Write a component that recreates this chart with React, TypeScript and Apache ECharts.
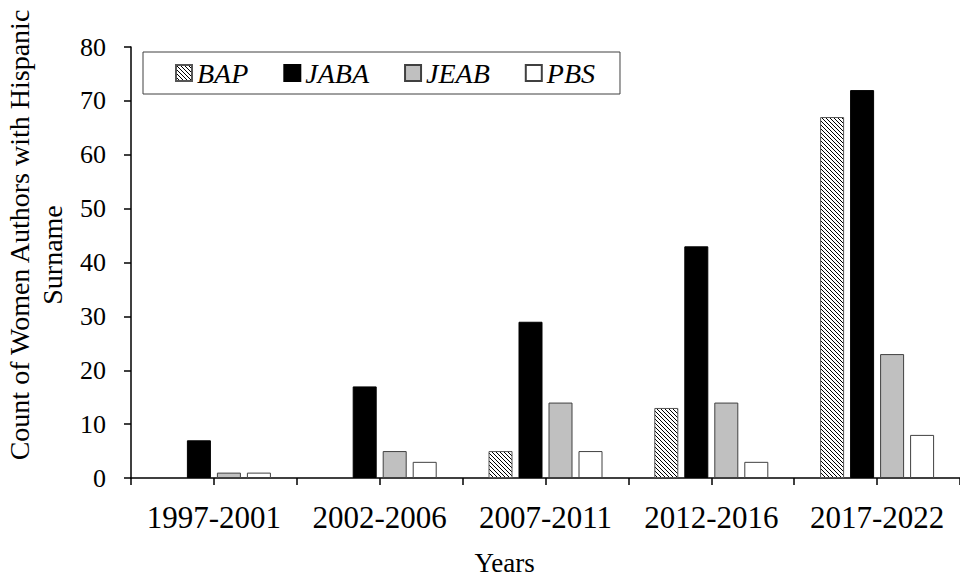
import React, { useEffect, useRef } from "react";
import * as echarts from "echarts";

const categories = ["1997-2001", "2002-2006", "2007-2011", "2012-2016", "2017-2022"];
const seriesNames = ["BAP", "JABA", "JEAB", "PBS"];
const bapValues = [0, 0, 5, 13, 67];
const jabaValues = [7, 17, 29, 43, 72];
const jeabValues = [1, 5, 14, 14, 23];
const pbsValues = [1, 3, 5, 3, 8];
const yTicks = [0, 10, 20, 30, 40, 50, 60, 70, 80];
const yTitleLine1 = "Count of Women Authors with Hispanic";
const yTitleLine2 = "Surname";
const xTitle = "Years";

const FONT = "Liberation Serif";

function makeHatch(): any {
  const c = document.createElement("canvas");
  c.width = 4;
  c.height = 4;
  const ctx = c.getContext("2d")!;
  ctx.fillStyle = "#ffffff";
  ctx.fillRect(0, 0, 4, 4);
  ctx.fillStyle = "#000000";
  for (let i = 0; i < 4; i++) ctx.fillRect(i, i, 1, 1);
  return { image: c.toDataURL(), repeat: "repeat", imageWidth: 4, imageHeight: 4 };
}

export default function App() {
  const ref = useRef<HTMLDivElement>(null);
  useEffect(() => {
    document.body.style.margin = "0";
    const chart = echarts.init(ref.current!, null, { renderer: "svg" });
    const hatch = makeHatch();
    const toData = (arr: number[]) => arr.map((v) => (v === 0 ? "-" : v));
    const styles = [
      { color: hatch, borderColor: "#555555", borderWidth: 1 },
      { color: "#000000", borderColor: "#000000", borderWidth: 1 },
      { color: "#c0c0c0", borderColor: "#404040", borderWidth: 1 },
      { color: "#ffffff", borderColor: "#404040", borderWidth: 1 },
    ];
    const values = [bapValues, jabaValues, jeabValues, pbsValues];
    const option: any = {
      animation: false,
      backgroundColor: "#ffffff",
      textStyle: { fontFamily: FONT },
      grid: { left: 131, top: 47, height: 438, width: 835, containLabel: false },
      legend: {
        left: 143,
        top: 52,
        orient: "horizontal",
        icon: "rect",
        itemWidth: 16,
        itemHeight: 16,
        itemGap: 35,
        padding: [7, 25, 7, 32],
        borderColor: "#404040",
        borderWidth: 1,
        textStyle: { fontFamily: FONT, fontStyle: "italic", fontSize: 28, color: "#000" },
        data: seriesNames,
      },
      graphic: [
        {
          type: "text",
          x: 19,
          y: 235,
          rotation: Math.PI / 2,
          style: {
            text: yTitleLine1,
            fontFamily: FONT,
            fontSize: 28,
            fill: "#000",
            align: "center",
            verticalAlign: "middle",
          },
        },
        {
          type: "text",
          x: 52,
          y: 255,
          rotation: Math.PI / 2,
          style: {
            text: yTitleLine2,
            fontFamily: FONT,
            fontSize: 28,
            fill: "#000",
            align: "center",
            verticalAlign: "middle",
          },
        },
      ],
      xAxis: [
        {
          type: "category",
          data: categories,
          boundaryGap: true,
          axisLine: { lineStyle: { color: "#000", width: 1.5 } },
          axisTick: { show: true, alignWithLabel: false, length: 7, lineStyle: { color: "#000", width: 1.5 } },
          axisLabel: { interval: 0, fontFamily: FONT, fontSize: 31, color: "#000", margin: 24 },
          name: xTitle,
          nameLocation: "middle",
          nameGap: 71,
          nameTextStyle: { fontFamily: FONT, fontSize: 27, color: "#000", padding: [0, 82, 0, 0] },
        },
        {
          type: "category",
          data: categories,
          position: "bottom",
          boundaryGap: true,
          axisLine: { show: false },
          axisTick: { show: true, alignWithLabel: true, length: 7, lineStyle: { color: "#000", width: 1.5 } },
          axisLabel: { show: false },
        },
      ],
      yAxis: {
        type: "value",
        min: yTicks[0],
        max: yTicks[yTicks.length - 1],
        interval: 10,
        axisLine: { show: true, lineStyle: { color: "#000", width: 1.5 } },
        axisTick: { show: true, length: 7, lineStyle: { color: "#000", width: 1.5 } },
        splitLine: { show: false },
        axisLabel: { fontFamily: FONT, fontSize: 26, color: "#000", margin: 25 },
      },
      series: seriesNames.map((name, i) => ({
        name,
        type: "bar",
        xAxisIndex: 0,
        data: toData(values[i]),
        barWidth: 24,
        barGap: "25%",
        itemStyle: styles[i],
      })),
    };
    chart.setOption(option);
    return () => chart.dispose();
  }, []);
  return (
    <div
      ref={ref}
      style={{ position: "fixed", left: 0, top: 0, width: 960, height: 581, background: "#fff" }}
    />
  );
}
